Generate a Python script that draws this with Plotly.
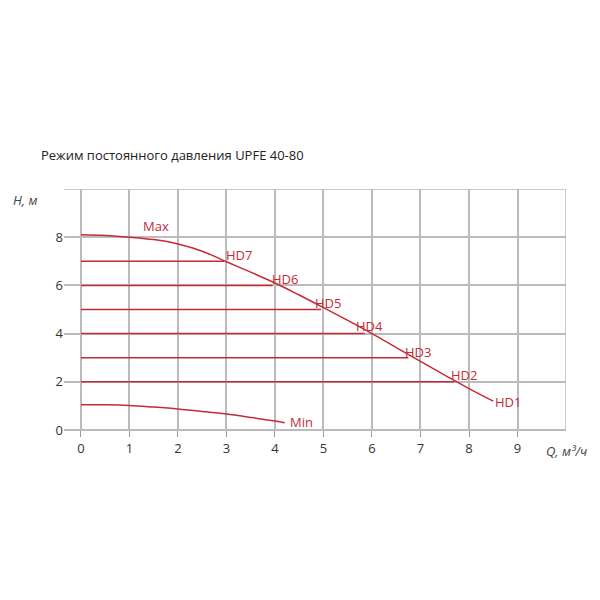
import plotly.graph_objects as go

max_q = [0, 0.5, 1, 1.5, 2, 2.5, 3, 3.5, 4, 4.5, 5, 5.5, 6, 6.5, 7, 7.5, 8, 8.5]
max_h = [8.1, 8.07, 8.0, 7.9, 7.72, 7.42, 6.98, 6.55, 6.1, 5.6, 5.08, 4.55, 4.0, 3.42, 2.85, 2.28, 1.72, 1.2]
min_q = [0, 0.5, 1, 1.5, 2, 2.5, 3, 3.5, 4, 4.2]
min_h = [1.05, 1.05, 1.02, 0.95, 0.87, 0.77, 0.66, 0.52, 0.37, 0.3]
hd_names = ["HD7", "HD6", "HD5", "HD4", "HD3", "HD2"]
hd_h = [7, 6, 5, 4, 3, 2]
hd_q_end = [2.95, 3.95, 4.95, 5.85, 6.75, 7.7]
label_pos = [(3.25, 7.25), (4.2, 6.25), (5.1, 5.25), (5.95, 4.3), (6.95, 3.25), (7.9, 2.3), (8.8, 1.15)]
label_txt = ["HD7", "HD6", "HD5", "HD4", "HD3", "HD2", "HD1"]

red = "#c62a37"
fig = go.Figure()
fig.add_trace(go.Scatter(x=max_q, y=max_h, mode="lines", line=dict(color=red, width=1.5, shape="spline")))
fig.add_trace(go.Scatter(x=min_q, y=min_h, mode="lines", line=dict(color=red, width=1.5, shape="spline")))
for h, q in zip(hd_h, hd_q_end):
    fig.add_trace(go.Scatter(x=[0, q], y=[h, h], mode="lines", line=dict(color=red, width=1.5)))
for (x, y), t in zip(label_pos, label_txt):
    fig.add_annotation(x=x, y=y, text=t, showarrow=False, font=dict(color=red, size=13, family="Open Sans"))
fig.add_annotation(x=1.55, y=8.45, text="Max", showarrow=False, font=dict(color=red, size=13, family="Open Sans"))
fig.add_annotation(x=4.55, y=0.35, text="Min", showarrow=False, font=dict(color=red, size=13, family="Open Sans"))
fig.add_annotation(x=0, y=1.02, xref="paper", yref="paper", xanchor="left", yanchor="bottom",
                   text="Режим постоянного давления UPFE 40-80", showarrow=False,
                   font=dict(size=13, color="#222", family="Open Sans"), yshift=18, xshift=-25)
fig.add_annotation(x=-0.05, y=1.0, xref="paper", yref="paper", text="<i>H, м</i>", showarrow=False,
                   font=dict(size=13, color="#444"), xanchor="right")
fig.add_annotation(x=1.0, y=0, xref="paper", yref="paper", text="<i>Q, м³/ч</i>", showarrow=False,
                   font=dict(size=13, color="#444"), xanchor="center", yanchor="top", yshift=-10)
fig.update_layout(
    width=600, height=600, plot_bgcolor="white", paper_bgcolor="white", showlegend=False,
    margin=dict(l=56, r=42, t=181, b=178),
    xaxis=dict(range=[-0.35, 10], tickvals=list(range(10)), showgrid=True, gridcolor="#bbb", gridwidth=1.5,
               zeroline=False, ticks="outside", tickcolor="#999", ticklen=6, tickfont=dict(size=13, color="#333"),
               showline=False),
    yaxis=dict(range=[0, 10], tickvals=[0, 2, 4, 6, 8], showgrid=True, gridcolor="#bbb", gridwidth=1.5,
               zeroline=True, zerolinecolor="#bbb", zerolinewidth=1.5, tickfont=dict(size=13, color="#333"),
               ticks="", showline=False),
)
fig.add_shape(type="line", xref="paper", yref="y", x0=0, x1=1, y0=10, y1=10, line=dict(color="#bbb", width=1.5))
fig.add_shape(type="line", xref="x", yref="paper", x0=10, x1=10, y0=0, y1=1, line=dict(color="#bbb", width=1.5))
fig.write_html("out.html")
